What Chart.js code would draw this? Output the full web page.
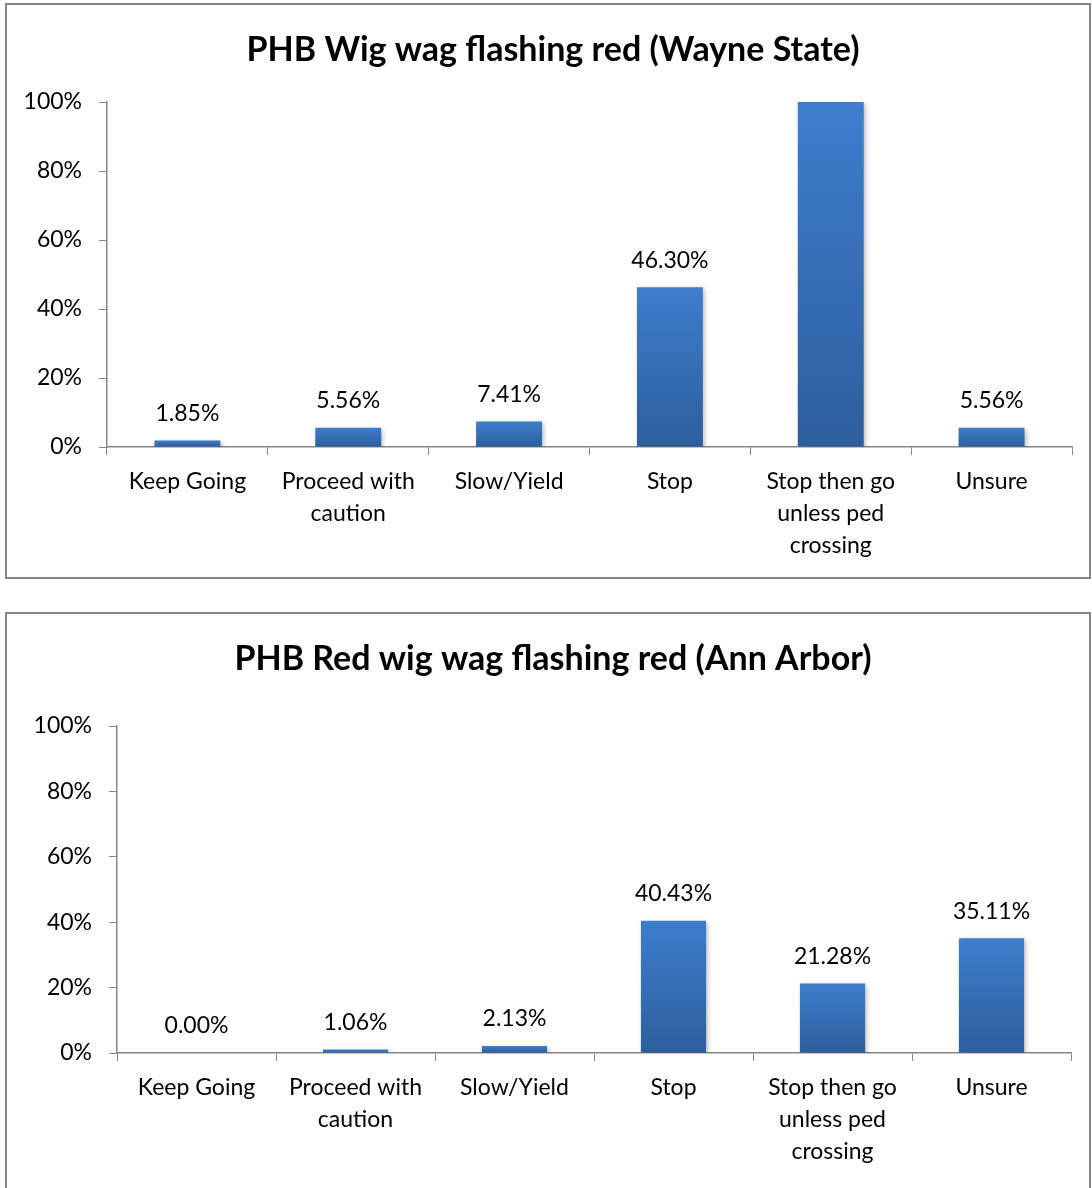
<!DOCTYPE html>
<html lang="en">
<head>
<meta charset="UTF-8">
<title>PHB Wig wag flashing red</title>
<script src="https://cdn.jsdelivr.net/npm/chart.js"></script>
<style>
  html, body { margin: 0; padding: 0; background: #fff; }
  body { width: 1092px; height: 1188px; position: relative; overflow: hidden; }
  .wrap { position: absolute; left: 0; width: 1092px; }
</style>
</head>
<body>
<div class="wrap" style="top:0;height:590px"><canvas id="wayne"></canvas></div>
<div class="wrap" style="top:600px;height:588px"><canvas id="annarbor"></canvas></div>
<script>
const categories = [
  'Keep Going',
  ['Proceed with', 'caution'],
  'Slow/Yield',
  'Stop',
  ['Stop then go', 'unless ped', 'crossing'],
  'Unsure'
];
const wayneValues = [1.85, 5.56, 7.41, 46.30, 100, 5.56];
const annArborValues = [0.00, 1.06, 2.13, 40.43, 21.28, 35.11];
const yTicks = [0, 20, 40, 60, 80, 100];

const FONT = 'Lato, "Open Sans", sans-serif';
const AXIS = '#868686';

// box, title and value labels
const decor = {
  id: 'decor',
  beforeDraw(chart, args, o) {
    const c = chart.ctx;
    c.save();
    c.strokeStyle = AXIS;
    c.lineWidth = 2;
    c.strokeRect(o.box[0], o.box[1], o.box[2], o.box[3]);
    c.fillStyle = '#000';
    c.font = 'bold ' + o.titleSize + 'px ' + FONT;
    c.textAlign = 'center';
    c.textBaseline = 'middle';
    c.fillText(o.title, o.titleX, o.titleY);
    c.restore();
  },
  beforeDatasetsDraw(chart) {
    const c = chart.ctx;
    c.save();
    c.shadowColor = 'rgba(0,0,0,0.28)';
    c.shadowBlur = 5;
    c.shadowOffsetX = 2;
    c.shadowOffsetY = 2;
  },
  afterDatasetsDraw(chart) {
    chart.ctx.restore();
    const c = chart.ctx;
    const ds = chart.data.datasets[0];
    const max = chart.scales.y.max;
    c.save();
    c.fillStyle = '#000';
    c.font = '23px ' + FONT;
    c.textAlign = 'center';
    c.textBaseline = 'middle';
    chart.getDatasetMeta(0).data.forEach((bar, i) => {
      const v = ds.data[i];
      if (v >= max) return; // label would sit outside the plot
      c.fillText(v.toFixed(2) + '%', bar.x, bar.y - 27);
    });
    c.restore();
  }
};

function barFill(ctx) {
  const chart = ctx.chart;
  if (!chart.chartArea || ctx.raw === undefined) return '#3870bb';
  const y = chart.scales.y;
  const top = y.getPixelForValue(ctx.raw);
  const bottom = y.getPixelForValue(0);
  if (bottom - top < 1) return '#3870bb';
  const g = chart.ctx.createLinearGradient(0, top, 0, bottom);
  g.addColorStop(0, '#3d7ecd');
  g.addColorStop(1, '#2d5e9c');
  return g;
}

function makeChart(id, values, opt) {
  return new Chart(document.getElementById(id), {
    type: 'bar',
    data: {
      labels: categories,
      datasets: [{
        data: values,
        backgroundColor: barFill,
        borderWidth: 0,
        categoryPercentage: 1,
        barPercentage: 0.41
      }]
    },
    options: {
      responsive: true,
      maintainAspectRatio: false,
      animation: false,
      layout: { padding: { top: opt.top, left: 0, right: opt.right, bottom: 0 } },
      plugins: {
        legend: { display: false },
        tooltip: { enabled: false },
        decor: opt.decor
      },
      scales: {
        x: {
          grid: { drawOnChartArea: false, drawTicks: true, tickLength: 8, color: AXIS, offset: true },
          border: { color: AXIS, width: 1.5 },
          ticks: {
            color: '#000',
            font: { family: FONT, size: 23, lineHeight: 1.4 },
            padding: 10,
            maxRotation: 0,
            autoSkip: false
          },
          afterFit: s => { s.height = opt.xHeight; }
        },
        y: {
          min: 0,
          max: 100,
          afterBuildTicks: s => { s.ticks = yTicks.map(v => ({ value: v })); },
          grid: { drawOnChartArea: false, drawTicks: true, tickLength: 8, color: AXIS },
          border: { color: AXIS, width: 1.5 },
          ticks: {
            color: '#000',
            font: { family: FONT, size: 23 },
            padding: 17,
            callback: v => v + '%'
          },
          afterFit: s => { s.width = opt.yWidth; }
        }
      }
    },
    plugins: [decor]
  });
}

makeChart('wayne', wayneValues, {
  top: 102, right: 20, xHeight: 143, yWidth: 107,
  decor: { box: [6, 4, 1084, 574], title: 'PHB Wig wag flashing red (Wayne State)', titleSize: 34, titleX: 553, titleY: 50 }
});

makeChart('annarbor', annArborValues, {
  top: 126, right: 21, xHeight: 135, yWidth: 117,
  decor: { box: [6, 13, 1084, 600], title: 'PHB Red wig wag flashing red (Ann Arbor)', titleSize: 34, titleX: 553, titleY: 59 }
});
</script>
</body>
</html>
